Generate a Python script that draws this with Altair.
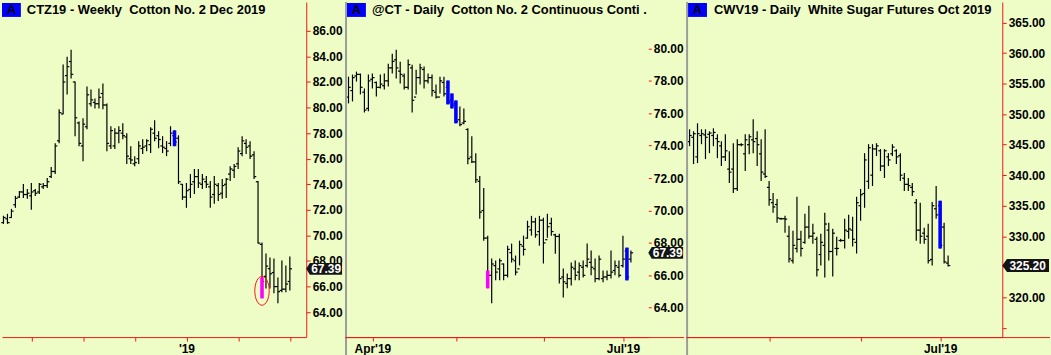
import altair as alt
import pandas as pd

RED = "#f01818"
BG = "#eefcc6"
FONT = "Liberation Sans"
PH = 337  # plot height
BAR_W = 1.2

# ---------------- Panel 1: CTZ19 weekly ----------------
p1_title = "CTZ19 - Weekly\u00a0 Cotton No. 2 Dec 2019"
p1_high = [71.54,71.69,72.08,73.09,73.48,74.02,73.64,74.10,73.64,74.10,
           74.10,74.49,75.35,77.21,79.86,83.36,83.98,84.52,82.03,78.92,
           79.16,81.64,81.41,80.71,81.49,81.88,80.32,78.54,78.38,78.54,
           78.77,77.99,76.98,76.20,77.37,77.52,77.52,78.46,79.00,78.15,
           77.76,77.37,78.54,78.22,77.83,74.02,74.10,74.80,75.19,75.19,
           74.80,74.65,74.26,74.65,74.10,74.41,74.49,75.42,75.58,76.90,
           77.76,77.52,77.37,76.59,74.26,69.44,68.58,68.27,68.19,66.71,
           68.04,67.65,68.35]
p1_low = [70.91,70.91,71.38,72.16,72.93,72.93,72.86,72.00,73.09,73.25,
          73.64,73.71,74.49,74.80,77.21,79.47,81.02,82.27,77.76,76.98,
          75.81,78.30,80.09,79.93,79.93,79.86,76.59,76.75,76.75,77.21,
          77.52,75.58,75.58,75.42,75.58,76.36,76.59,76.44,77.37,76.82,
          76.44,76.20,76.98,76.98,74.02,72.78,72.16,72.93,73.25,73.71,
          73.64,73.71,72.16,72.47,72.70,72.86,72.93,74.26,74.49,75.19,
          76.20,76.36,75.97,74.41,69.36,65.08,65.86,65.86,65.47,64.69,
          65.55,65.55,65.70]
p1_open = [71.0,71.3,71.4,72.4,73.0,73.4,73.2,73.1,73.5,73.4,
           73.8,73.9,74.6,75.0,77.4,79.5,82.5,83.6,82.0,78.8,
           77.0,78.5,80.3,80.4,80.3,81.1,80.2,77.0,77.0,78.0,
           78.0,77.7,76.0,75.6,76.0,76.8,77.0,77.1,78.0,77.8,
           77.0,76.8,77.2,77.8,77.6,74.0,73.0,73.6,74.2,74.6,
           74.0,74.2,73.8,73.2,73.9,73.3,74.0,74.8,75.1,75.6,
           76.4,77.2,77.0,76.3,74.2,69.3,66.8,67.4,67.1,66.0,
           65.7,65.8,66.4]
p1_close = [71.4,71.0,71.9,72.9,73.4,73.2,73.3,73.4,73.3,74.0,
            73.9,74.2,75.0,77.0,79.6,82.0,83.2,82.6,79.2,77.2,
            78.7,81.0,80.6,80.3,80.8,80.2,77.2,78.2,78.0,78.2,
            77.8,76.2,75.9,75.7,77.0,76.9,77.4,78.3,77.6,77.5,
            76.9,76.6,78.0,77.3,74.2,73.0,73.5,74.0,74.6,74.1,
            74.4,74.0,73.0,74.0,73.2,73.9,74.4,75.2,75.4,76.6,
            77.4,76.9,76.2,74.6,69.4,66.4,67.6,67.0,66.0,65.6,
            65.8,66.2,67.39]
p1_hl_idx = [43, 65]
p1_hl_top = [78.22, 66.71]
p1_hl_bot = [76.98, 65.08]
p1_hl_col = ["#0000ff", "#ff00ff"]
p1_circle = [65, 65.67]
p1_yticks = [64, 66, 68, 70, 72, 74, 76, 78, 80, 82, 84, 86]
p1_xticks = [7, 20, 33, 46, 59, 72]
p1_xlabels = ["", "", "", "'19", "", ""]

# ---------------- Panel 2: @CT daily ----------------
p2_title = "@CT - Daily\u00a0 Cotton No. 2 Continuous Conti ."
p2_open = [77.0,77.4,78.3,78.4,77.3,76.3,78.1,77.9,77.6,77.7,
           78.0,78.8,79.3,78.6,78.3,77.6,78.8,77.0,78.2,78.7,
           78.0,78.2,77.3,77.0,77.9,77.6,76.8,76.6,75.6,75.4,
           75.0,73.3,73.0,71.8,70.0,68.3,66.0,66.6,66.4,66.7,
           66.0,67.4,66.9,66.4,67.8,68.3,68.8,69.3,68.7,69.4,
           68.2,69.2,68.5,68.4,65.9,65.5,65.8,66.4,66.2,66.5,
           66.6,66.8,66.4,65.8,65.8,65.9,66.0,66.3,66.5,66.6,
           67.5,67.0]
p2_high = [78.26,78.39,78.57,78.45,77.53,78.39,78.45,77.96,78.39,78.45,
           79.06,79.67,79.92,79.18,78.45,79.31,79.00,78.69,79.06,78.88,
           78.45,78.39,77.77,78.26,78.26,78.02,77.22,76.79,76.42,76.30,
           75.07,74.58,73.54,72.13,71.39,68.45,67.04,66.91,67.04,66.73,
           67.83,67.96,67.22,68.14,68.45,69.37,69.67,69.55,69.67,69.55,
           69.80,69.55,68.57,68.57,66.42,66.12,66.79,66.91,66.79,66.91,
           67.96,67.53,67.04,67.22,66.30,66.30,67.53,66.91,66.91,68.45,
           67.71,67.53]
p2_low = [76.61,76.73,77.96,77.16,76.05,76.12,77.53,77.04,77.53,77.47,
          77.65,78.45,78.14,77.83,77.47,77.47,76.05,77.16,77.77,77.53,
          77.83,77.04,76.91,77.22,77.04,76.55,76.30,75.38,75.20,75.32,
          72.86,72.93,71.70,69.49,68.14,65.20,64.28,65.69,65.69,65.69,
          65.87,66.79,66.00,66.61,67.22,68.26,68.45,68.32,67.83,66.73,
          68.32,68.45,67.34,65.50,64.64,65.20,65.38,65.69,65.69,65.87,
          66.48,66.00,65.57,65.69,65.57,65.69,65.81,66.00,65.87,66.48,
          65.69,66.79]
p2_close = [77.6,78.2,78.4,77.6,76.2,78.0,78.2,77.6,77.8,78.0,
            78.8,79.2,78.8,78.4,77.6,79.0,76.8,78.2,78.8,78.0,
            78.2,77.4,77.0,78.0,77.2,76.7,76.5,75.5,75.3,75.5,
            73.2,73.0,71.9,69.9,68.3,66.0,66.7,66.2,66.9,66.0,
            67.6,67.0,66.2,67.9,67.6,69.0,69.3,68.5,69.4,68.0,
            69.0,68.7,68.4,65.8,65.6,65.8,66.5,66.0,66.6,66.0,
            67.0,66.5,65.8,67.0,65.9,66.0,66.2,66.6,66.0,67.0,
            65.9,67.39]
p2_hl_idx = [25, 26, 27, 35, 70]
p2_hl_top = [78.02, 77.22, 76.79, 66.30, 67.71]
p2_hl_bot = [76.55, 76.30, 75.38, 65.20, 65.69]
p2_hl_col = ["#0000ff", "#0000ff", "#0000ff", "#ff00ff", "#0000ff"]
p2_yticks = [64, 66, 68, 70, 72, 74, 76, 78, 80]
p2_xticks = [6, 27, 49, 69]
p2_xlabels = ["Apr'19", "", "", "Jul'19"]

# ---------------- Panel 3: CWV19 daily ----------------
p3_title = "CWV19 - Daily\u00a0 White Sugar Futures Oct 2019"
p3_high = [347.52,347.20,348.50,347.52,347.52,347.20,347.69,346.71,345.57,346.71,
           343.94,345.24,345.89,345.24,346.71,346.71,349.15,347.20,345.89,347.52,
           339.05,337.10,336.12,333.03,333.35,331.72,330.91,336.45,330.91,333.68,
           334.98,332.05,329.93,330.42,333.84,332.21,331.24,329.93,329.60,332.87,
           333.52,333.19,336.45,337.75,343.61,345.08,345.08,345.24,344.27,344.27,
           343.61,345.08,344.27,343.61,340.36,339.54,338.73,336.12,335.47,331.40,
           332.05,335.63,338.24,335.80,332.21,326.84]
p3_low = [344.75,341.82,341.99,345.08,342.64,343.61,344.75,342.80,341.50,342.31,
          338.73,337.10,337.42,344.75,340.68,343.45,343.61,341.50,339.05,339.54,
          334.98,333.84,332.21,332.70,330.58,325.70,325.54,327.33,326.68,328.79,
          329.61,328.79,323.42,325.21,323.26,326.02,323.42,326.84,329.10,328.00,
          329.61,328.30,327.16,332.54,334.66,337.75,338.24,343.13,340.68,339.54,
          341.50,343.13,341.82,339.05,337.42,337.42,336.61,329.28,328.79,328.79,
          325.54,325.21,332.87,327.98,325.54,325.05]
p3_open = [345.5,346.2,343.0,346.5,346.6,346.7,346.5,346.0,344.8,343.0,
           341.0,341.0,337.8,345.0,343.5,345.0,345.8,346.0,343.5,340.2,
           338.0,335.5,335.2,332.87,332.87,330.0,326.0,328.0,329.5,329.0,
           331.5,330.0,329.5,327.0,328.5,331.0,327.5,328.0,329.3,329.3,
           330.8,331.0,329.0,335.0,337.0,339.0,340.0,344.3,344.0,341.5,
           343.0,343.5,344.0,343.2,339.5,338.5,338.0,335.5,331.0,330.5,
           330.0,326.2,334.5,335.0,331.5,325.6]
p3_close = [346.5,346.8,346.8,346.8,346.2,346.9,347.0,345.5,343.0,344.0,
            340.5,337.8,345.0,345.0,345.8,346.3,345.5,345.0,340.5,339.8,
            336.0,334.8,333.0,332.87,332.8,326.3,328.5,329.5,328.0,331.5,
            330.0,330.5,324.5,329.0,332.0,327.5,330.5,328.0,329.3,331.0,
            331.2,329.5,335.5,336.8,342.5,344.5,344.3,344.8,341.5,344.0,
            342.5,344.6,343.0,340.0,338.5,338.3,337.3,331.0,330.0,329.5,
            326.0,335.0,333.5,328.5,325.8,325.20]
p3_hl_idx = [63]
p3_hl_top = [335.80]
p3_hl_bot = [327.98]
p3_hl_col = ["#0000ff"]
p3_yticks = [315, 320, 325, 330, 335, 340, 345, 350, 355, 360, 365]
p3_xticks = [20, 43, 63]
p3_xlabels = ["", "", "Jul'19"]


def ellipse_path():
    return ("M0,-1 C0.276,-1 0.5,-0.552 0.5,0 C0.5,0.552 0.276,1 0,1 "
            "C-0.276,1 -0.5,0.552 -0.5,0 C-0.5,-0.552 -0.276,-1 0,-1 Z")


def tag_path(hh, tip):
    return f"M-1,0 L{tip},-{hh} L1,-{hh} L1,{hh} L{tip},{hh} Z"


def make_panel(o, h, l, c, hl_idx, hl_top, hl_bot, hl_col, ydom, xdom, W, ext,
               yticks, ymin_label, ytick_size, right_domain, xticks, xlabels,
               title, title_x, a_x, tag_w, tag_hh, sep, extend_bottom,
               circle=None):
    n = len(h)
    df = pd.DataFrame({"i": list(range(n)), "o": o, "h": h, "l": l, "c": c})
    df["xo"] = df["i"] - 0.55
    df["xc"] = df["i"] + 0.55
    xs = alt.Scale(domain=xdom, nice=False, zero=False)
    ys = alt.Scale(domain=ydom, nice=False, zero=False)

    conds = "".join(
        f'abs(datum.value - {v}) < 0.01 ? "{lab}" : '
        for v, lab in zip(xticks, xlabels) if lab
    )
    xexpr = conds + "''"
    xaxis = alt.Axis(values=xticks, labelExpr=xexpr, domainColor=RED,
                     tickColor=RED, tickSize=4, labelFont=FONT,
                     labelFontSize=12, labelFontWeight="bold",
                     labelColor="black", labelPadding=2, grid=False,
                     title=None, labelFlush=False, labelOverlap=False)
    yexpr = f"datum.value < {ymin_label} ? '' : format(datum.value, '.2f')"
    yaxis = alt.Axis(orient="right", values=yticks, labelExpr=yexpr,
                     domain=right_domain, domainColor=RED, tickColor=RED,
                     tickSize=ytick_size, labelFont=FONT, labelFontSize=12,
                     labelFontWeight="bold", labelColor="black",
                     labelPadding=2, grid=False, title=None,
                     minExtent=ext, maxExtent=ext, labelOverlap=False)

    def X(f):
        return alt.X(f, scale=xs, axis=xaxis)

    def Y(f):
        return alt.Y(f, scale=ys, axis=yaxis)

    layers = []
    hilo = alt.Chart(df).mark_rule(color="black", strokeWidth=BAR_W).encode(
        x=X("i:Q"), y=Y("l:Q"), y2="h:Q")
    op = alt.Chart(df).mark_rule(color="black", strokeWidth=BAR_W).encode(
        x=X("xo:Q"), x2="i:Q", y=Y("o:Q"))
    cl = alt.Chart(df).mark_rule(color="black", strokeWidth=BAR_W).encode(
        x=X("i:Q"), x2="xc:Q", y=Y("c:Q"))
    layers += [hilo, op, cl]

    one = pd.DataFrame({"k": [0]})
    if sep:
        layers.append(alt.Chart(one).mark_rule(color="#9c9c9c", strokeWidth=2)
                      .encode(x=alt.value(1), y=alt.value(0), y2=alt.value(PH + 18)))
    if extend_bottom:
        layers.append(alt.Chart(one).mark_rule(color=RED, strokeWidth=1)
                      .encode(x=alt.value(0), x2=alt.value(W + ext),
                              y=alt.value(PH + 0.5)))

    hdf = pd.DataFrame({"i": hl_idx, "t": hl_top, "b": hl_bot, "col": hl_col})
    hdf["x1"] = hdf["i"] - 0.45
    hdf["x2"] = hdf["i"] + 0.45
    layers.append(alt.Chart(hdf).mark_rect().encode(
        x=X("x1:Q"), x2="x2:Q", y=Y("t:Q"), y2="b:Q",
        color=alt.Color("col:N", scale=None)))

    if circle is not None:
        cdf = pd.DataFrame({"i": [circle[0]], "p": [circle[1]]})
        layers.append(alt.Chart(cdf).mark_point(
            shape=ellipse_path(), size=29 * 29, filled=False, color=RED,
            strokeWidth=1, opacity=1).encode(x=X("i:Q"), y=Y("p:Q")))

    last = pd.DataFrame({"p": [c[-1]]})
    layers.append(alt.Chart(last).mark_point(
        shape=tag_path(tag_hh, -0.8), size=tag_w * tag_w, filled=True,
        color="#141414", strokeWidth=0, opacity=1).encode(
        x=alt.value(W + tag_w / 2.0), y=Y("p:Q")))
    layers.append(alt.Chart(last).mark_text(
        color="white", font=FONT, fontSize=12, fontWeight="bold",
        align="center", baseline="middle").encode(
        x=alt.value(W + tag_w / 2.0 + 2), y=Y("p:Q"),
        text=alt.Text("p:Q", format=".2f")))

    tdf = pd.DataFrame({"t": [title], "a": ["A"]})
    layers.append(alt.Chart(tdf).mark_rect(color="#0000ff").encode(
        x=alt.value(a_x), x2=alt.value(a_x + 19),
        y=alt.value(1), y2=alt.value(15)))
    layers.append(alt.Chart(tdf).mark_text(
        color="black", font=FONT, fontSize=13, fontWeight="bold",
        align="center", baseline="middle").encode(
        x=alt.value(a_x + 9.5), y=alt.value(8.5), text="a:N"))
    layers.append(alt.Chart(tdf).mark_text(
        color="black", font=FONT, fontSize=13, fontWeight="bold",
        align="left", baseline="middle").encode(
        x=alt.value(title_x), y=alt.value(8.5), text="t:N"))

    return alt.layer(*layers).properties(width=W, height=PH)


p1 = make_panel(p1_open, p1_high, p1_low, p1_close,
                p1_hl_idx, p1_hl_top, p1_hl_bot, p1_hl_col,
                [62.05, 88.255], [-0.375, 76.125], 306, 38,
                p1_yticks, 0, 4, True, p1_xticks, p1_xlabels,
                p1_title, 25, 0, 36, 0.33, False, False, circle=p1_circle)
p2 = make_panel(p2_open, p2_high, p2_low, p2_close,
                p2_hl_idx, p2_hl_top, p2_hl_bot, p2_hl_col,
                [62.19, 82.865], [-0.875, 75.375], 305, 36,
                p2_yticks, 0, 3, False, p2_xticks, p2_xlabels,
                p2_title, 27, 2, 35, 0.34, True, True)
p3 = make_panel(p3_open, p3_high, p3_low, p3_close,
                p3_hl_idx, p3_hl_top, p3_hl_bot, p3_hl_col,
                [313.48, 368.37], [-0.875, 78.625], 318, 48,
                p3_yticks, 317, 4, True, p3_xticks, p3_xlabels,
                p3_title, 28, 2, 47, 0.28, True, True)

chart = alt.hconcat(p1, p2, p3, spacing=0).properties(
    padding=0
).configure(background=BG).configure_view(strokeWidth=0)

chart.save("out.html", embed_options={"renderer": "svg", "actions": False})
